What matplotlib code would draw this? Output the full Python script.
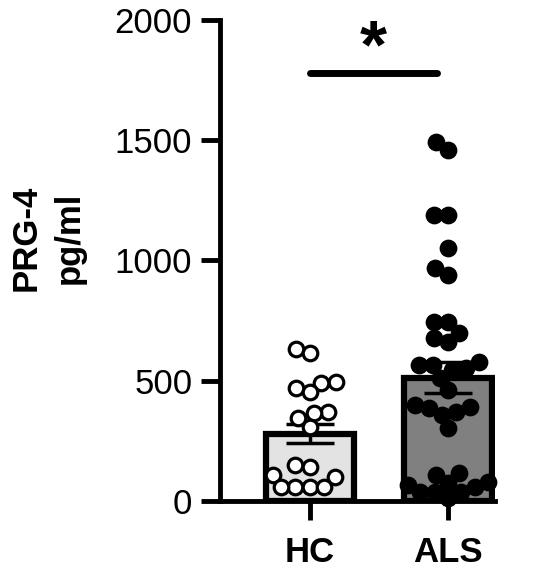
import numpy as np
import matplotlib
matplotlib.use("Agg")
import matplotlib.pyplot as plt

plt.rcParams['font.family'] = ['Liberation Sans', 'DejaVu Sans']

categories = ["HC", "ALS"]
hc_values = [630, 615, 495, 490, 470, 453, 370, 366, 345, 308,
             150, 141, 108, 100, 58, 58, 58, 58]
als_values = [1493, 1459, 1189, 1189, 1052, 969, 940,
              744, 744, 698, 678, 661,
              578, 565, 565, 553, 545, 511, 461,
              399, 391, 387, 370, 358, 303,
              116, 108, 79, 75, 67, 58, 37, 37, 37, 12]
means = [280, 512]
sems = [40, 65]
yticks = [0, 500, 1000, 1500, 2000]
ylabel = "PRG-4\npg/ml"
sig_text = "*"

bar_colors = ["#e3e3e3", "#808080"]
marker_face = ["white", "black"]

fig = plt.figure(figsize=(5.5, 5.73), dpi=100)
ax = fig.add_axes([0.4, 0.1257, 0.5, 0.8394])
ax.set_xlim(-0.65, 1.34)
ax.set_ylim(0, 2000)

xpos = np.arange(len(categories))
ax.bar(xpos, means, width=0.64, color=bar_colors, edgecolor="black",
       linewidth=4.5, zorder=1)
ax.errorbar(xpos, means, yerr=sems, fmt="none", ecolor="black",
            elinewidth=2.5, capsize=17, capthick=2.5, zorder=2)


def swarm(x0, vals, diam):
    """Simple beeswarm in pixel space; returns data x positions."""
    trans = ax.transData
    pts = trans.transform(np.column_stack([np.full(len(vals), x0), vals]))
    cx = pts[0, 0]
    ys = pts[:, 1]
    order = np.argsort(ys)
    placed = []
    xs = np.zeros(len(vals))
    for i in order:
        y = ys[i]
        cands = [0.0]
        for (px, py) in placed:
            dy = abs(py - y)
            if dy < diam:
                dx = np.sqrt(diam ** 2 - dy ** 2)
                cands += [px + dx + 1e-6, px - dx - 1e-6]
        cands = sorted(cands, key=lambda c: (abs(c), c))
        for c in cands:
            ok = all((c - px) ** 2 + (y - py) ** 2 >= diam ** 2 - 1e-3
                     for (px, py) in placed)
            if ok:
                break
        placed.append((c, y))
        xs[i] = c
    disp = np.column_stack([cx + xs, ys])
    return trans.inverted().transform(disp)[:, 0]


fig.canvas.draw()
groups = [hc_values, als_values]
for i, vals in enumerate(groups):
    xs = swarm(xpos[i], vals, 14.5)
    ax.scatter(xs, vals, s=110, facecolor=marker_face[i], edgecolor="black",
               linewidth=2.3, zorder=3, clip_on=False)

# significance bar
ax.plot([0.0, 0.92], [1780, 1780], color="black", linewidth=5,
        solid_capstyle="round", zorder=4, clip_on=False)
ax.text(0.46, 1745, sig_text, ha="center", va="bottom", fontsize=50,
        fontweight="bold", zorder=4)

for s in ["top", "right"]:
    ax.spines[s].set_visible(False)
for s in ["left", "bottom"]:
    ax.spines[s].set_linewidth(3.5)

ax.set_yticks(yticks)
ax.set_yticklabels([str(t) for t in yticks], fontsize=25)
ax.set_xticks(xpos)
ax.set_xticklabels(categories, fontsize=25, fontweight="bold")
ax.tick_params(axis="both", length=14, width=3.5, pad=6)
ax.tick_params(axis="x", pad=11)
fig.text(48 / 550, 1 - 238 / 573, ylabel, rotation=90, ha="center",
         va="center", fontsize=25, fontweight="bold", linespacing=1.4,
         multialignment="center")

fig.savefig("out.png", dpi=100)
